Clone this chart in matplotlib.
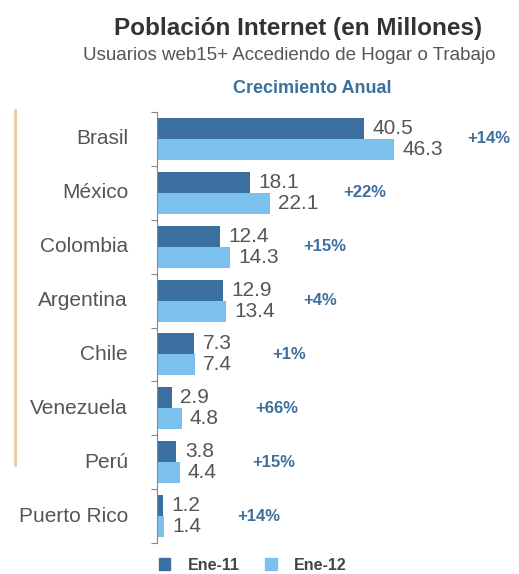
import numpy as np
import matplotlib.pyplot as plt
from matplotlib.lines import Line2D
from matplotlib.patches import Patch

plt.rcParams['font.family'] = ['Liberation Sans', 'DejaVu Sans']

# Datos: usuarios de internet (millones)
paises = ['Brasil', 'México', 'Colombia', 'Argentina', 'Chile',
          'Venezuela', 'Perú', 'Puerto Rico']
ene_11 = [40.5, 18.1, 12.4, 12.9, 7.3, 2.9, 3.8, 1.2]
ene_12 = [46.3, 22.1, 14.3, 13.4, 7.4, 4.8, 4.4, 1.4]
crecimiento = ['+14%', '+22%', '+15%', '+4%', '+1%', '+66%', '+15%', '+14%']

AZUL_OSCURO = '#3a6fa0'
AZUL_CLARO = '#7cc0ee'
AZUL_TEXTO = '#3c6e9e'
GRIS_TEXTO = '#555555'

W, H = 519, 574
fig = plt.figure(figsize=(W / 100, H / 100), dpi=100)

# Área del gráfico
x0, x1 = 157, 519
y_top, y_bot = 112, 543
ax = fig.add_axes([x0 / W, 1 - y_bot / H, (x1 - x0) / W, (y_bot - y_top) / H])

y = np.arange(len(paises))
alto = 0.39
ax.barh(y - alto / 2, ene_11, height=alto, color=AZUL_OSCURO)
ax.barh(y + alto / 2, ene_12, height=alto, color=AZUL_CLARO)

ax.set_xlim(0, (x1 - x0) / 5.12)
ax.set_ylim(len(paises) - 0.5, -0.5)

# Etiquetas de valor
for i in range(len(paises)):
    ax.annotate(f'{ene_11[i]:.1f}', (ene_11[i], y[i] - alto / 2),
                xytext=(6, 0), textcoords='offset points',
                va='center', ha='left', fontsize=15, color=GRIS_TEXTO)
    ax.annotate(f'{ene_12[i]:.1f}', (ene_12[i], y[i] + alto / 2),
                xytext=(6, 0), textcoords='offset points',
                va='center', ha='left', fontsize=15, color=GRIS_TEXTO)
    ax.text(max(ene_11[i], ene_12[i]) + 18.5, y[i], crecimiento[i],
            va='center', ha='center', fontsize=12, fontweight='bold',
            color=AZUL_TEXTO)

# Eje izquierdo con marcas entre categorías
for s in ['top', 'right', 'bottom']:
    ax.spines[s].set_visible(False)
ax.spines['left'].set_color('#888888')
ax.set_xticks([])
ax.set_yticks(np.arange(len(paises) + 1) - 0.5)
ax.set_yticklabels([])
ax.tick_params(axis='y', length=4, color='#888888')
for i, p in enumerate(paises):
    ax.text(-0.08, i, p, transform=ax.get_yaxis_transform(),
            ha='right', va='center', fontsize=15, color=GRIS_TEXTO)

# Títulos
fig.text(298 / W, 1 - 29 / H, 'Población Internet (en Millones)',
         ha='center', va='center', fontsize=17.5, fontweight='bold',
         color='#333333')
fig.text(289 / W, 1 - 55 / H, 'Usuarios web15+ Accediendo de Hogar o Trabajo',
         ha='center', va='center', fontsize=13.5, color=GRIS_TEXTO)
fig.text(312 / W, 1 - 89 / H, 'Crecimiento Anual',
         ha='center', va='center', fontsize=13, fontweight='bold',
         color=AZUL_TEXTO)

# Línea decorativa naranja
fig.add_artist(Line2D([15 / W, 15 / W], [1 - 110 / H, 1 - 465 / H],
                      color='#f0c9a0', lw=2))

# Leyenda
handles = [Patch(color=AZUL_OSCURO), Patch(color=AZUL_CLARO)]
leg = fig.legend(handles, ['Ene-11', 'Ene-12'], loc='center',
                 bbox_to_anchor=(253 / W, 1 - 565 / H), ncol=2, frameon=False,
                 handlelength=0.7, handleheight=0.7, columnspacing=1.6,
                 handletextpad=1.1, prop={'size': 11.5, 'weight': 'bold'})
for t in leg.get_texts():
    t.set_color('#444444')

fig.savefig('out.png', dpi=100)
